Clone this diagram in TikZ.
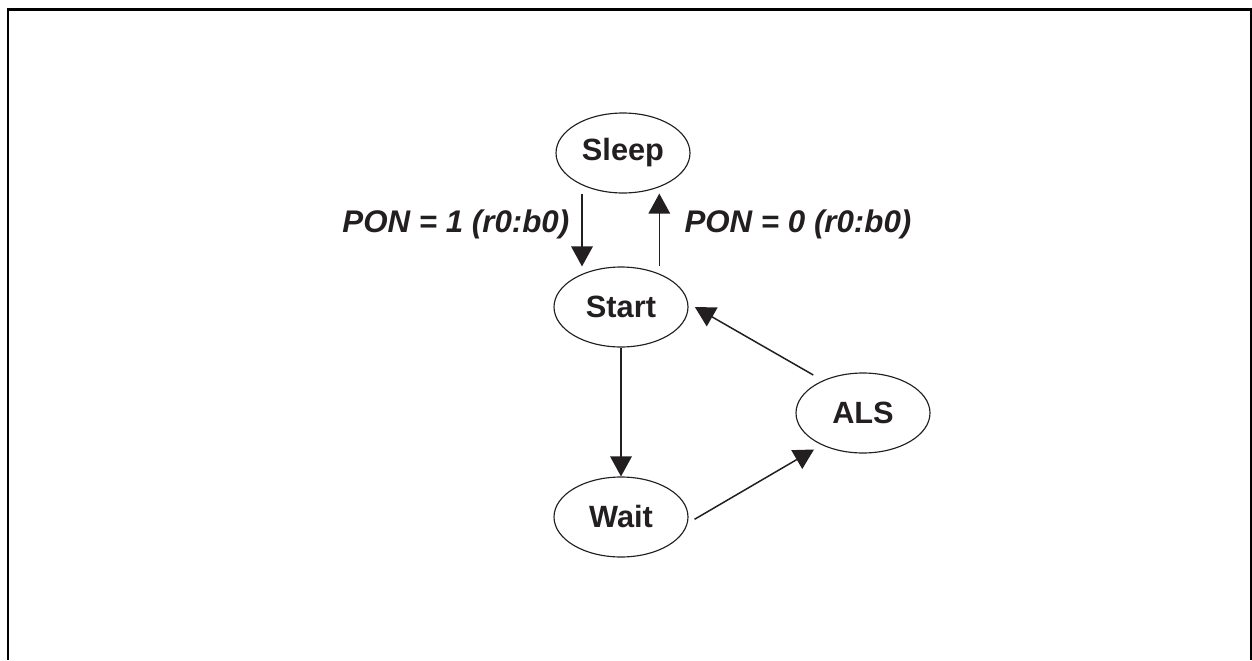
\documentclass[tikz,border=0pt]{standalone}
\usepackage{fontspec}
\setmainfont{Liberation Sans}
\usepackage{xcolor}
\usepackage{tikz}
\usetikzlibrary{arrows.meta}
\usetikzlibrary{positioning,shapes.geometric}
\definecolor{ink}{RGB}{35,31,32}
\tikzset{>={Triangle[width=0.43cm,length=0.40cm]}}

\begin{document}
\begin{tikzpicture}[x=0.02cm,y=-0.02cm]

	% Definitions.
	\tikzstyle{state}=[
		ellipse, draw=ink, line width=0.65pt,
		inner sep=0pt,
		minimum width=2.68cm,
		minimum height=1.60cm,
		text=ink,
		font=\fontsize{17.5}{21}\selectfont\bfseries
	]
	\tikzstyle{trans}=[->, draw=ink, line width=0.85pt]
	\tikzstyle{cond}=[inner sep=0pt, text=ink, font=\fontsize{17.8}{21}\selectfont\bfseries\itshape]

	% ---------- Frame ---------
	\useasboundingbox (0,0) rectangle (1252,660);
	\draw[line width=1.5pt] (8,660) -- (8,9.3) -- (1251,9.3) -- (1251,660);

	% ---------- States ---------
	\node[state] (sleep) at (623,153) {Sleep};
	\node[state] (start) at (621,307) {Start};
	\node[state] (als) at (863,413) {ALS};
	\node[state] (wait) at (621,517) {Wait};

	% ------- Sleep <-> Start -------
	\coordinate (downX) at (582,0);
	\coordinate (upX) at (659.3,0);
	\draw[trans] (downX |- sleep.south) -- node[cond, left=0.24cm, pos=0.43] {PON = 1 (r0:b0)} (downX |- start.north);
	\draw[trans] (upX |- start.north) -- node[cond, right=0.49cm, pos=0.57] {PON = 0 (r0:b0)} (upX |- sleep.south);

	% ------- Start -> Wait -> ALS -> Start -------
	\draw[trans] (start.south) -- (start.south |- wait.north);
	\draw[trans] ([xshift=0.12cm,yshift=-0.046cm]wait.east) -- ([xshift=-0.98cm,yshift=-0.73cm]als.center);
	\draw[trans] ([xshift=-0.994cm,yshift=0.76cm]als.center) -- ([xshift=0.126cm]start.east);

\end{tikzpicture}
\end{document}
